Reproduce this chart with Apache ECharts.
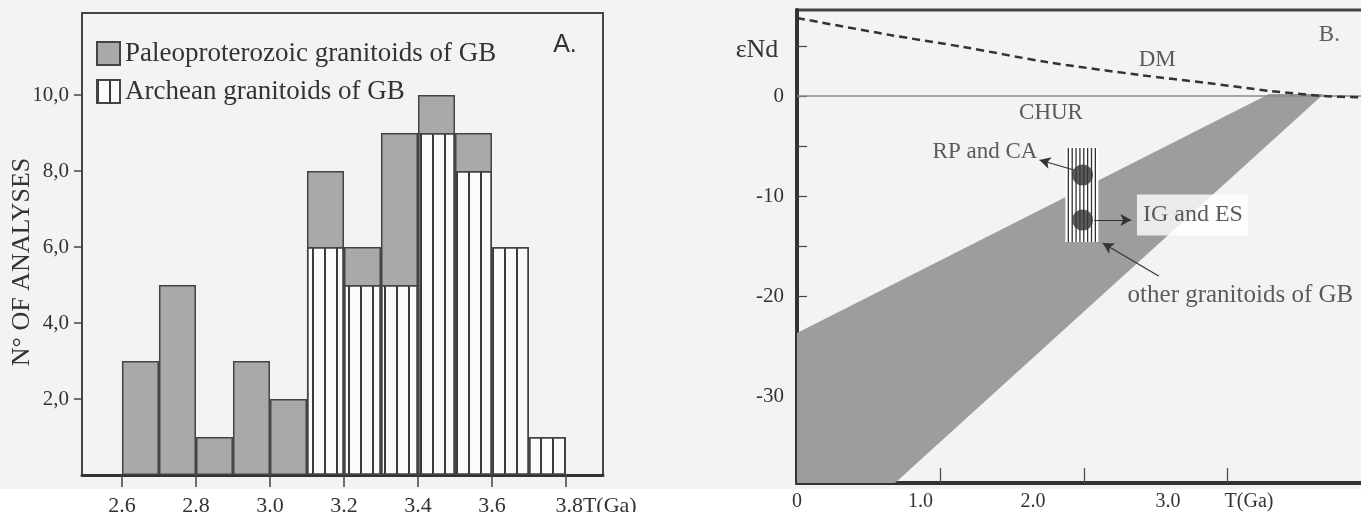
<!DOCTYPE html>
<html>
<head>
<meta charset="utf-8">
<title>GB granitoids - Nd model ages</title>
<script src="https://cdn.jsdelivr.net/npm/echarts@6/dist/echarts.min.js"></script>
<style>
  html, body { margin: 0; padding: 0; background: #f3f3f3; }
  #chart { width: 1361px; height: 512px; }
</style>
</head>
<body>
<div id="chart"></div>
<script>
// ── DATA ───────────────────────────────────────────
// panel A: histogram, bins are 0.1 Ga wide
const binStart      = [2.6, 2.7, 2.8, 2.9, 3.0, 3.1, 3.2, 3.3, 3.4, 3.5, 3.6, 3.7];
const paleoCounts   = [3, 5, 1, 3, 2, 2, 1, 4, 1, 1, 0, 0];
const archeanCounts = [0, 0, 0, 0, 0, 6, 5, 5, 9, 8, 6, 1];
const histXTicks    = [2.6, 2.8, 3.0, 3.2, 3.4, 3.6, 3.8];
const histYTicks    = [2, 4, 6, 8, 10];
const legendNames   = ['Paleoproterozoic granitoids of GB', 'Archean granitoids of GB'];

// panel B: eNd vs T(Ga)
const dmCurve   = [[0, 7.8], [0.65, 6.1], [1.16, 4.9], [1.74, 3.4], [2.39, 2.1], [2.86, 1.3], [3.30, 0.5], [3.67, 0], [3.95, -0.15]];
const churLine  = [[0, 0], [4, 0]];
const gbBand    = [[0, -23.7], [3.29, 0.2], [3.67, 0.2], [0.683, -38.7], [0, -38.7]];
const rpBox     = [[1.87, -5.2], [2.10, -14.6]];
const rpPoints  = [[1.99, -7.9], [1.99, -12.4]];
const arrowSegs = [
  [[1.93, -7.4], [1.69, -6.4]],
  [[2.07, -12.4], [2.33, -12.4]],
  [[2.52, -18.0], [2.13, -14.7]],
];
const noteTexts  = ['DM', 'CHUR', 'RP and CA', 'IG and ES', 'other granitoids of GB', 'B.'];
const noteAnchor = [[2.51, 3.6], [1.77, -1.7], [1.31, -5.6], [2.369, -11.9], [3.09, -19.9], [3.71, 6.1]];
const ndXTicks   = [1, 2, 3];
const ndXLabels  = [0, 1, 2, 3];
const ndYTicks   = [-35, -30, -25, -20, -15, -10, -5, 0, 5];
const ndYLabels  = [-30, -20, -10, 0];

// ── STYLE ──────────────────────────────────────────
const SERIF = 'Liberation Serif';
const INK = '#333';
const FRAME = '#444';

const chart = echarts.init(document.getElementById('chart'), null, { renderer: 'canvas' });

const stripes = {
  symbol: 'rect', symbolSize: 1,
  dashArrayX: [2, 10], dashArrayY: [4, 0],
  color: '#3a3a3a',
};

// the grey part sits on top of the archean part: draw the column total behind it
const binTotals = binStart.map((b, i) => archeanCounts[i] + paleoCounts[i]);

// x labels of panel B sit left of their ticks in the original
const ndXRich = {
  a: { fontFamily: SERIF, fontSize: 20, color: INK },
  b: { fontFamily: SERIF, fontSize: 20, color: INK, padding: [0, 40, 0, 0] },
  c: { fontFamily: SERIF, fontSize: 20, color: INK, padding: [0, 102, 0, 0] },
  d: { fontFamily: SERIF, fontSize: 20, color: INK, padding: [0, 44, 0, 0] },
  e: { fontFamily: SERIF, fontSize: 20, color: INK, padding: [0, 26, 0, 0] },
};

chart.setOption({
  backgroundColor: '#f3f3f3',
  animation: false,
  textStyle: { fontFamily: SERIF, color: INK },
  grid: [
    { left: 82, top: 13, width: 521, height: 462, outerBoundsMode: 'none', containLabel: false,
      show: true, borderColor: FRAME, borderWidth: 2, backgroundColor: 'transparent' },
    { left: 797, top: 10, right: -10, bottom: 29, outerBoundsMode: 'none', containLabel: false,
      show: true, borderColor: FRAME, borderWidth: 3, backgroundColor: 'transparent' },
  ],
  legend: {
    data: legendNames,
    orient: 'vertical', left: 91, top: 35,
    itemWidth: 23, itemHeight: 23, itemGap: 11,
    icon: 'rect',
    textStyle: { fontFamily: SERIF, fontSize: 27, color: INK },
  },
  xAxis: [
    {
      gridIndex: 0, type: 'value', min: 2.492, max: 3.9,
      axisLine: { onZero: false, lineStyle: { color: INK, width: 3 } },
      axisTick: { show: true, customValues: histXTicks, length: 12, lineStyle: { color: FRAME, width: 1.5 } },
      axisLabel: {
        customValues: histXTicks, margin: 20,
        formatter: v => Math.abs(v - 3.8) < 1e-6 ? '{t|3.8T(Ga)}' : '{n|' + v.toFixed(1) + '}',
        rich: {
          n: { fontFamily: SERIF, fontSize: 22, color: INK },
          t: { fontFamily: SERIF, fontSize: 22, color: INK, padding: [0, 0, 0, 60] },
        },
      },
      splitLine: { show: false },
    },
    {
      gridIndex: 1, type: 'value', min: 0, max: 4,
      axisLine: { onZero: false, lineStyle: { color: INK, width: 4 } },
      axisTick: { show: true, customValues: ndXTicks, inside: true, length: 15, lineStyle: { color: FRAME, width: 1.2 } },
      axisLabel: {
        customValues: ndXLabels, margin: 9,
        formatter: v => v === 0 ? '{a|0}' : v === 1 ? '{b|1.0}' : v === 2 ? '{c|2.0}' : '{d|3.0}{e|T(Ga)}',
        rich: ndXRich,
      },
      splitLine: { show: false },
    },
  ],
  yAxis: [
    {
      gridIndex: 0, type: 'value', min: 0, max: 12.16,
      axisLine: { show: true, onZero: false, lineStyle: { color: FRAME, width: 2 } },
      axisTick: { show: true, customValues: histYTicks, length: 8, lineStyle: { color: FRAME, width: 1.5 } },
      axisLabel: {
        customValues: histYTicks, margin: 13,
        fontFamily: SERIF, fontSize: 21, color: INK,
        formatter: v => v.toFixed(1).replace('.', ','),
      },
      splitLine: { show: false },
    },
    {
      gridIndex: 1, type: 'value', min: -38.7, max: 8.6,
      axisLine: { show: true, onZero: false, lineStyle: { color: INK, width: 4 } },
      axisTick: { show: true, customValues: ndYTicks, inside: true, length: 10, lineStyle: { color: FRAME, width: 1.2 } },
      axisLabel: {
        customValues: ndYLabels, margin: 13,
        fontFamily: SERIF, fontSize: 21, color: INK,
        padding: [0, 0, 12, 0],
      },
      splitLine: { show: false },
    },
  ],
  series: [
    // ── panel A ──
    {
      name: legendNames[0], type: 'bar', xAxisIndex: 0, yAxisIndex: 0,
      barWidth: 37, barGap: '-100%',
      data: binStart.map((b, i) => [b + 0.05, binTotals[i] || '-']),
      itemStyle: { color: '#a9a9a9', borderColor: FRAME, borderWidth: 1.5 },
    },
    {
      name: legendNames[1], type: 'bar', xAxisIndex: 0, yAxisIndex: 0,
      barWidth: 37, barGap: '-100%',
      data: binStart.map((b, i) => [b + 0.05, archeanCounts[i] || '-']),
      itemStyle: { color: '#fbfbfb', borderColor: FRAME, borderWidth: 1.5, decal: stripes },
    },
    // ── panel B ──
    {
      type: 'custom', xAxisIndex: 1, yAxisIndex: 1, z: 1, silent: true,
      data: [[0, 0]],
      renderItem: (params, api) => ({
        type: 'polygon',
        shape: { points: gbBand.map(p => api.coord(p)) },
        style: { fill: '#9d9d9d' },
      }),
    },
    {
      type: 'line', xAxisIndex: 1, yAxisIndex: 1, z: 2, silent: true,
      data: churLine, showSymbol: false,
      lineStyle: { color: '#8a8a8a', width: 1.5 },
    },
    {
      type: 'line', xAxisIndex: 1, yAxisIndex: 1, z: 2, silent: true,
      data: dmCurve, showSymbol: false, smooth: 0.3,
      lineStyle: { color: INK, width: 2.5, type: [8, 5] },
    },
    {
      type: 'custom', xAxisIndex: 1, yAxisIndex: 1, z: 3, silent: true,
      data: [[0, 0]],
      renderItem: (params, api) => {
        const [x0, y0] = api.coord(rpBox[0]);
        const [x1, y1] = api.coord(rpBox[1]);
        const n = 8, pad = 3;
        const lines = [];
        for (let k = 0; k < n; k++) {
          const x = x0 + pad + (x1 - x0 - 2 * pad) * k / (n - 1);
          lines.push({ type: 'line', shape: { x1: x, y1: y0, x2: x, y2: y1 }, style: { stroke: INK, lineWidth: 1.3 } });
        }
        return {
          type: 'group',
          children: [{ type: 'rect', shape: { x: x0, y: y0, width: x1 - x0, height: y1 - y0 }, style: { fill: '#fff' } }].concat(lines),
        };
      },
    },
    {
      type: 'scatter', xAxisIndex: 1, yAxisIndex: 1, z: 4, silent: true,
      data: rpPoints, symbolSize: 21,
      itemStyle: { color: '#333' },
      markLine: {
        silent: true, symbol: ['none', 'arrow'], symbolSize: [9, 11],
        lineStyle: { color: INK, width: 1.2, type: 'solid' },
        label: { show: false },
        data: arrowSegs.map(([a, b]) => [{ coord: a }, { coord: b }]),
      },
    },
    {
      type: 'scatter', xAxisIndex: 1, yAxisIndex: 1, z: 5, silent: true,
      symbolSize: 0,
      data: noteTexts.map((t, i) => {
        const item = { name: t, value: noteAnchor[i] };
        if (t === 'IG and ES') {
          item.label = { position: 'right', distance: 0, backgroundColor: '#fff', padding: [9, 5, 8, 6], fontSize: 24 };
        }
        if (t === 'other granitoids of GB') item.label = { fontSize: 25 };
        return item;
      }),
      label: {
        show: true, position: 'inside', formatter: '{b}',
        fontFamily: SERIF, fontSize: 23, color: INK,
      },
    },
  ],
  graphic: [
    { type: 'rect', z: -10, shape: { x: 0, y: 489, width: 1361, height: 23 }, style: { fill: '#ffffff' }, silent: true },
    {
      type: 'text', x: 22, y: 262, rotation: Math.PI / 2,
      style: { text: 'N° OF ANALYSES', fontFamily: SERIF, fontSize: 26, fill: INK, align: 'center', verticalAlign: 'middle' },
    },
    {
      type: 'text', x: 565, y: 45,
      style: { text: 'A.', fontFamily: 'Liberation Sans', fontSize: 25, fill: INK, align: 'center', verticalAlign: 'middle' },
    },
    {
      type: 'text', x: 757, y: 50,
      style: { text: 'εNd', fontFamily: SERIF, fontSize: 26, fill: INK, align: 'center', verticalAlign: 'middle' },
    },
  ],
});
</script>
</body>
</html>
